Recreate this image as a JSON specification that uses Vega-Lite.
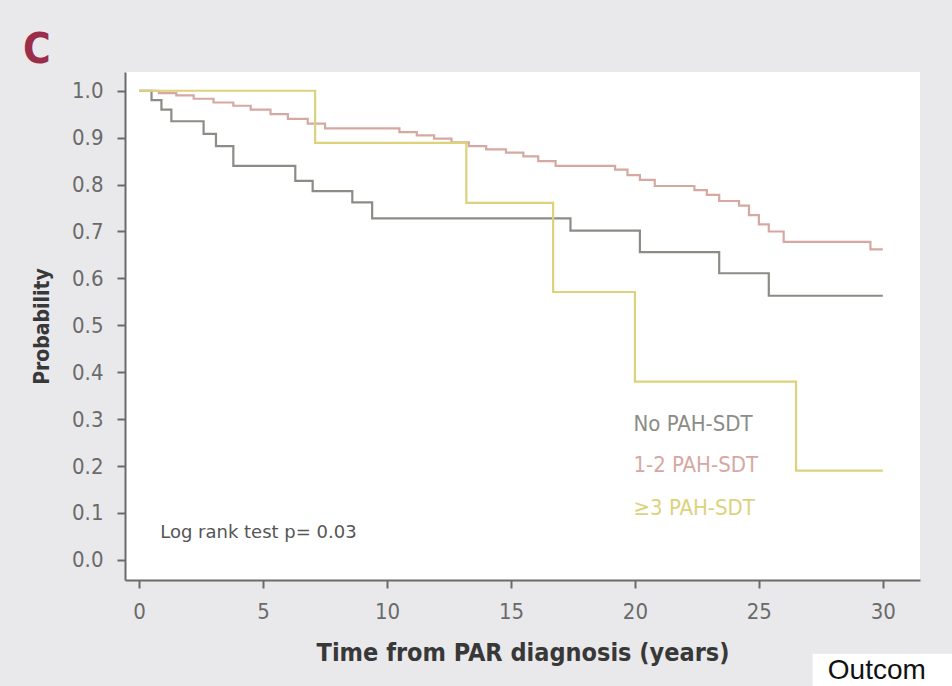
{
  "$schema": "https://vega.github.io/schema/vega-lite/v6.json",
  "autosize": {"type": "none"},
  "width": 795,
  "height": 508,
  "padding": {"left": 125, "top": 72, "right": 32, "bottom": 106},
  "background": "#e9e9eb",
  "title": {"text": "C", "anchor": "start", "frame": "group", "dx": -102, "offset": 0, "fontSize": 42, "font": "DejaVu Sans Condensed, sans-serif", "fontWeight": "bold", "color": "#9c2d4a"},
  "config": {
    "view": {"fill": "white", "stroke": null},
    "axis": {
      "domainColor": "#6a6a6a", "domainWidth": 2, "tickColor": "#6a6a6a", "tickWidth": 2, "tickSize": 8,
      "grid": false, "labelFont": "DejaVu Sans Condensed, sans-serif", "labelFontSize": 22,
      "labelColor": "#6a6a6a", "titleFont": "DejaVu Sans Condensed, sans-serif",
      "titleFontWeight": "bold", "titleColor": "#383838"
    }
  },
  "datasets": {
    "curves": [
      {"g": "No PAH-SDT", "t": 0, "p": 1.0},
      {"g": "No PAH-SDT", "t": 0.5, "p": 0.98},
      {"g": "No PAH-SDT", "t": 0.9, "p": 0.96},
      {"g": "No PAH-SDT", "t": 1.3, "p": 0.935},
      {"g": "No PAH-SDT", "t": 2.6, "p": 0.908},
      {"g": "No PAH-SDT", "t": 3.1, "p": 0.882},
      {"g": "No PAH-SDT", "t": 3.8, "p": 0.84},
      {"g": "No PAH-SDT", "t": 6.3, "p": 0.808},
      {"g": "No PAH-SDT", "t": 7.0, "p": 0.786},
      {"g": "No PAH-SDT", "t": 8.6, "p": 0.762},
      {"g": "No PAH-SDT", "t": 9.4, "p": 0.728},
      {"g": "No PAH-SDT", "t": 17.4, "p": 0.702},
      {"g": "No PAH-SDT", "t": 20.2, "p": 0.656},
      {"g": "No PAH-SDT", "t": 23.4, "p": 0.611},
      {"g": "No PAH-SDT", "t": 25.4, "p": 0.563},
      {"g": "No PAH-SDT", "t": 30.0, "p": 0.563},
      {"g": "1-2 PAH-SDT", "t": 0, "p": 1.0},
      {"g": "1-2 PAH-SDT", "t": 0.8, "p": 0.995},
      {"g": "1-2 PAH-SDT", "t": 1.5, "p": 0.99},
      {"g": "1-2 PAH-SDT", "t": 2.2, "p": 0.983},
      {"g": "1-2 PAH-SDT", "t": 3.0, "p": 0.975},
      {"g": "1-2 PAH-SDT", "t": 3.8, "p": 0.968},
      {"g": "1-2 PAH-SDT", "t": 4.5, "p": 0.96},
      {"g": "1-2 PAH-SDT", "t": 5.3, "p": 0.95},
      {"g": "1-2 PAH-SDT", "t": 6.0, "p": 0.94},
      {"g": "1-2 PAH-SDT", "t": 6.8, "p": 0.93},
      {"g": "1-2 PAH-SDT", "t": 7.5, "p": 0.92},
      {"g": "1-2 PAH-SDT", "t": 10.5, "p": 0.912},
      {"g": "1-2 PAH-SDT", "t": 11.2, "p": 0.905},
      {"g": "1-2 PAH-SDT", "t": 11.9, "p": 0.898},
      {"g": "1-2 PAH-SDT", "t": 12.6, "p": 0.89},
      {"g": "1-2 PAH-SDT", "t": 13.3, "p": 0.882},
      {"g": "1-2 PAH-SDT", "t": 14.0, "p": 0.875},
      {"g": "1-2 PAH-SDT", "t": 14.8, "p": 0.868},
      {"g": "1-2 PAH-SDT", "t": 15.5, "p": 0.86},
      {"g": "1-2 PAH-SDT", "t": 16.1, "p": 0.85},
      {"g": "1-2 PAH-SDT", "t": 16.8, "p": 0.84},
      {"g": "1-2 PAH-SDT", "t": 19.2, "p": 0.832},
      {"g": "1-2 PAH-SDT", "t": 19.7, "p": 0.82},
      {"g": "1-2 PAH-SDT", "t": 20.2, "p": 0.81},
      {"g": "1-2 PAH-SDT", "t": 20.8, "p": 0.797},
      {"g": "1-2 PAH-SDT", "t": 22.4, "p": 0.788},
      {"g": "1-2 PAH-SDT", "t": 22.9, "p": 0.778},
      {"g": "1-2 PAH-SDT", "t": 23.4, "p": 0.765},
      {"g": "1-2 PAH-SDT", "t": 24.2, "p": 0.755},
      {"g": "1-2 PAH-SDT", "t": 24.6, "p": 0.735},
      {"g": "1-2 PAH-SDT", "t": 25.0, "p": 0.715},
      {"g": "1-2 PAH-SDT", "t": 25.4, "p": 0.70},
      {"g": "1-2 PAH-SDT", "t": 26.0, "p": 0.678},
      {"g": "1-2 PAH-SDT", "t": 29.5, "p": 0.662},
      {"g": "1-2 PAH-SDT", "t": 30.0, "p": 0.662},
      {"g": "≥3 PAH-SDT", "t": 0, "p": 1.0},
      {"g": "≥3 PAH-SDT", "t": 7.1, "p": 0.889},
      {"g": "≥3 PAH-SDT", "t": 13.2, "p": 0.761},
      {"g": "≥3 PAH-SDT", "t": 16.7, "p": 0.571},
      {"g": "≥3 PAH-SDT", "t": 20.0, "p": 0.38},
      {"g": "≥3 PAH-SDT", "t": 26.5, "p": 0.19},
      {"g": "≥3 PAH-SDT", "t": 30.0, "p": 0.19}
    ],
    "labels": [
      {"g": "No PAH-SDT", "t": 19.94, "p": 0.29},
      {"g": "1-2 PAH-SDT", "t": 19.94, "p": 0.203},
      {"g": "≥3 PAH-SDT", "t": 19.94, "p": 0.111}
    ],
    "notes": [
      {"txt": "Log rank test p= 0.03", "t": 0.85, "p": 0.058}
    ],
    "extra": [
      {"txt": "Outcom", "t": 27.78, "p": -0.2537, "t1": 27.17, "t2": 33, "p1": -0.2004, "p2": -0.3}
    ]
  },
  "layer": [
    {
      "data": {"name": "curves"},
      "mark": {"type": "line", "interpolate": "step-after", "strokeWidth": 2.2},
      "encoding": {
        "x": {"field": "t", "type": "quantitative", "scale": {"domain": [-0.57, 31.5], "nice": false, "zero": false},
              "axis": {"values": [0, 5, 10, 15, 20, 25, 30], "title": "Time from PAR diagnosis (years)", "labelPadding": 13, "titlePadding": 18, "titleFontSize": 25}},
        "y": {"field": "p", "type": "quantitative", "scale": {"domain": [-0.043, 1.04], "nice": false, "zero": false},
              "axis": {"values": [0, 0.1, 0.2, 0.3, 0.4, 0.5, 0.6, 0.7, 0.8, 0.9, 1.0], "format": ".1f", "title": "Probability", "labelPadding": 14, "titlePadding": 19, "titleFontSize": 21}},
        "color": {"field": "g", "type": "nominal", "legend": null,
                  "scale": {"domain": ["No PAH-SDT", "1-2 PAH-SDT", "≥3 PAH-SDT"], "range": ["#8c8c86", "#d6a8a2", "#ddd27c"]}}
      }
    },
    {
      "data": {"name": "labels"},
      "mark": {"type": "text", "align": "left", "baseline": "middle", "fontSize": 22, "font": "DejaVu Sans Condensed, sans-serif"},
      "encoding": {
        "x": {"field": "t", "type": "quantitative"},
        "y": {"field": "p", "type": "quantitative"},
        "text": {"field": "g"},
        "color": {"field": "g", "type": "nominal", "legend": null}
      }
    },
    {
      "data": {"name": "notes"},
      "mark": {"type": "text", "align": "left", "baseline": "middle", "fontSize": 18, "color": "#555555", "font": "DejaVu Sans, sans-serif"},
      "encoding": {
        "x": {"field": "t", "type": "quantitative"},
        "y": {"field": "p", "type": "quantitative"},
        "text": {"field": "txt"}
      }
    },
    {
      "data": {"name": "extra"},
      "mark": {"type": "rect", "color": "white", "clip": false},
      "encoding": {
        "x": {"field": "t1", "type": "quantitative"},
        "x2": {"field": "t2"},
        "y": {"field": "p1", "type": "quantitative"},
        "y2": {"field": "p2"}
      }
    },
    {
      "data": {"name": "extra"},
      "mark": {"type": "text", "align": "left", "baseline": "alphabetic", "fontSize": 28, "color": "#111111", "font": "Liberation Sans, Arial, sans-serif", "clip": false},
      "encoding": {
        "x": {"field": "t", "type": "quantitative"},
        "y": {"field": "p", "type": "quantitative"},
        "text": {"field": "txt"}
      }
    }
  ]
}
